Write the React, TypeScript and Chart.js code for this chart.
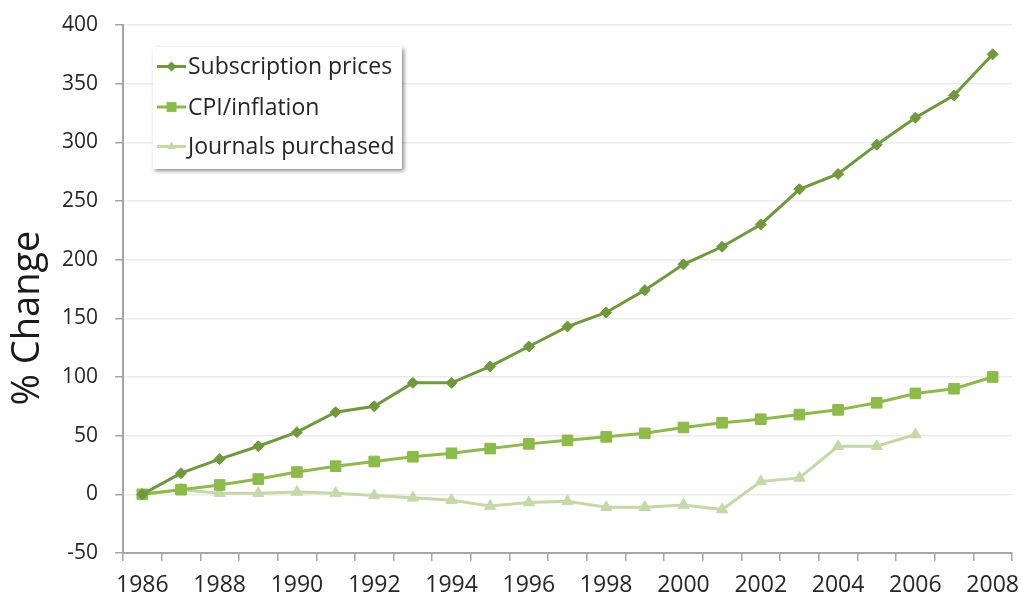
import React, { useEffect, useRef } from "react";
import { Chart, registerables } from "chart.js";

Chart.register(...registerables);

const years: string[] = [
  "1986", "1987", "1988", "1989", "1990", "1991", "1992", "1993", "1994", "1995", "1996", "1997",
  "1998", "1999", "2000", "2001", "2002", "2003", "2004", "2005", "2006", "2007", "2008",
];

const subscriptionPrices: number[] = [
  0, 18, 30, 41, 53, 70, 75, 95, 95, 109, 126, 143,
  155, 174, 196, 211, 230, 260, 273, 298, 321, 340, 375,
];

const cpiInflation: number[] = [
  0, 4, 8, 13, 19, 24, 28, 32, 35, 39, 43, 46,
  49, 52, 57, 61, 64, 68, 72, 78, 86, 90, 100,
];

const journalsPurchased: (number | null)[] = [
  0, 4, 1, 1, 2, 1, -1, -3, -5, -10, -7, -6,
  -11, -11, -9, -13, 11, 14, 41, 41, 51, null, null,
];

const yTicks = { min: -50, max: 400, step: 50 };
const yTitle = "% Change";

const seriesNames = ["Subscription prices", "CPI/inflation", "Journals purchased"];
const seriesColors = ["#6e9a3a", "#8cbb48", "#c5d9a6"];
const seriesMarkers = ["rectRot", "rect", "triangle"];
const seriesRadius = [5.5, 7.5, 6.5];

const FONT = "'Open Sans', 'Liberation Sans', sans-serif";
const TEXT = "#262626";

function drawMarker(ctx: CanvasRenderingContext2D, style: string, r: number, x: number, y: number) {
  ctx.beginPath();
  if (style === "rect") {
    const s = Math.SQRT1_2 * r;
    ctx.rect(x - s, y - s, 2 * s, 2 * s);
  } else if (style === "rectRot") {
    ctx.moveTo(x, y - r);
    ctx.lineTo(x + r, y);
    ctx.lineTo(x, y + r);
    ctx.lineTo(x - r, y);
    ctx.closePath();
  } else {
    ctx.moveTo(x, y - r);
    ctx.lineTo(x + r * 0.866, y + r * 0.5);
    ctx.lineTo(x - r * 0.866, y + r * 0.5);
    ctx.closePath();
  }
  ctx.fill();
}

const legendPlugin = {
  id: "boxLegend",
  afterDraw(chart: any) {
    const ctx = chart.ctx as CanvasRenderingContext2D;
    const area = chart.chartArea;
    const x0 = area.left + 30;
    const y0 = area.top + 22;
    const w = 249;
    const h = 122;
    ctx.save();
    ctx.shadowColor = "rgba(0,0,0,0.45)";
    ctx.shadowBlur = 4;
    ctx.shadowOffsetX = 2;
    ctx.shadowOffsetY = 2;
    ctx.fillStyle = "#ffffff";
    ctx.fillRect(x0, y0, w, h);
    ctx.restore();
    ctx.save();
    const rows = [19.5, 60, 99.5];
    seriesNames.forEach((name, i) => {
      const cy = y0 + rows[i];
      const lx1 = x0 + 4;
      const lx2 = x0 + 33;
      ctx.strokeStyle = seriesColors[i];
      ctx.lineWidth = 3;
      ctx.beginPath();
      ctx.moveTo(lx1, cy);
      ctx.lineTo(lx2, cy);
      ctx.stroke();
      ctx.fillStyle = seriesColors[i];
      drawMarker(ctx, seriesMarkers[i], i === 1 ? 7 : 5, (lx1 + lx2) / 2, cy);
      ctx.fillStyle = TEXT;
      ctx.font = `23px ${FONT}`;
      ctx.textBaseline = "middle";
      ctx.textAlign = "left";
      ctx.fillText(name, x0 + 35, cy + 1);
    });
    ctx.restore();
  },
};

const titlePlugin = {
  id: "yTitle",
  afterDraw(chart: any) {
    const ctx = chart.ctx as CanvasRenderingContext2D;
    ctx.save();
    ctx.translate(28, 318);
    ctx.rotate(-Math.PI / 2);
    ctx.fillStyle = "#1a1a1a";
    ctx.font = `38px ${FONT}`;
    ctx.textAlign = "center";
    ctx.textBaseline = "middle";
    ctx.fillText(yTitle, 0, 0);
    ctx.restore();
  },
};

export default function App() {
  const ref = useRef<HTMLCanvasElement | null>(null);

  useEffect(() => {
    if (!ref.current) return;
    const seriesData = [subscriptionPrices, cpiInflation, journalsPurchased];
    const chart = new Chart(ref.current, {
      type: "line",
      data: {
        labels: years,
        datasets: seriesNames.map((name, i) => ({
          label: name,
          data: seriesData[i] as any,
          borderColor: seriesColors[i],
          backgroundColor: seriesColors[i],
          pointBackgroundColor: seriesColors[i],
          pointBorderColor: seriesColors[i],
          pointStyle: seriesMarkers[i] as any,
          pointRadius: seriesRadius[i],
          pointBorderWidth: 1,
          borderWidth: 3,
          tension: 0,
          spanGaps: false,
          order: i,
        })),
      },
      options: {
        animation: false,
        responsive: true,
        maintainAspectRatio: false,
        layout: { padding: { top: 25, right: 10, bottom: 0, left: 0 } },
        plugins: {
          legend: { display: false },
          tooltip: { enabled: false },
        },
        scales: {
          x: {
            type: "category",
            offset: true,
            grid: {
              offset: true,
              drawOnChartArea: false,
              drawTicks: true,
              tickLength: 8,
              tickColor: "#a6a6a6",
              color: "#a6a6a6",
              lineWidth: 1.5,
            },
            border: { color: "#a6a6a6", width: 2 },
            ticks: {
              autoSkip: false,
              maxRotation: 0,
              minRotation: 0,
              padding: 11,
              color: TEXT,
              font: { family: FONT, size: 23 },
              callback: function (_v: any, idx: number) {
                return idx % 2 === 0 ? years[idx] : "";
              },
            },
            afterFit: (scale: any) => {
              scale.height = 46;
              scale.paddingLeft = 0;
              scale.paddingRight = 0;
            },
          },
          y: {
            min: yTicks.min,
            max: yTicks.max,
            grid: {
              color: "#ebebeb",
              lineWidth: 1.5,
              tickLength: 8,
              tickColor: "#a6a6a6",
            },
            border: { color: "#a6a6a6", width: 2 },
            ticks: {
              stepSize: yTicks.step,
              padding: 17,
              color: TEXT,
              font: { family: FONT, size: 21 },
            },
            title: { display: false },
            afterFit: (scale: any) => {
              scale.width = 123;
              scale.paddingTop = 0;
              scale.paddingBottom = 0;
            },
          },
        },
      },
      plugins: [legendPlugin, titlePlugin],
    });
    return () => chart.destroy();
  }, []);

  return (
    <div style={{ position: "fixed", left: 0, top: 0, width: 1022, height: 599, background: "#fff" }}>
      <canvas ref={ref} />
    </div>
  );
}
